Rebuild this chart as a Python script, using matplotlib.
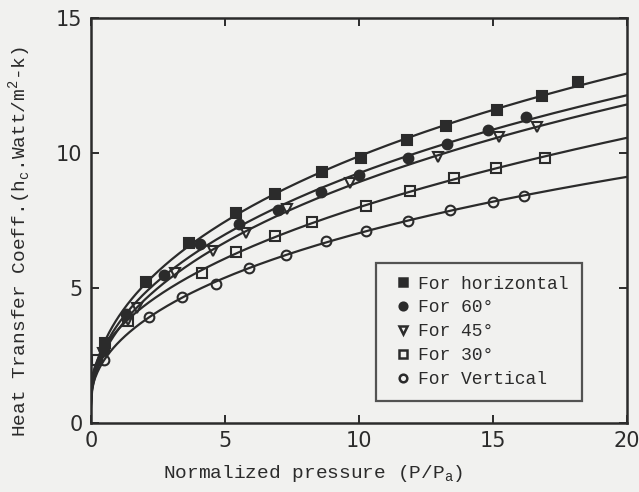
import numpy as np
import matplotlib
matplotlib.use("Agg")
import matplotlib.pyplot as plt

# ---- data ----
x_horiz = [0.52, 2.05, 3.66, 5.41, 6.87, 8.62, 10.07, 11.79, 13.25, 15.15, 16.83, 18.17]
y_horiz = [2.96, 5.22, 6.67, 7.78, 8.48, 9.30, 9.81, 10.48, 11.00, 11.59, 12.11, 12.63]

x_60 = [0.49, 1.30, 2.72, 4.07, 5.52, 6.98, 8.58, 10.00, 11.83, 13.28, 14.81, 16.23]
y_60 = [2.70, 4.05, 5.48, 6.63, 7.37, 7.89, 8.56, 9.19, 9.81, 10.33, 10.85, 11.33]

x_45 = [0.45, 1.38, 1.72, 3.13, 4.55, 5.78, 7.31, 9.66, 12.95, 15.22, 16.64]
y_45 = [2.60, 3.81, 4.26, 5.56, 6.37, 7.04, 7.93, 8.89, 9.85, 10.59, 10.96]

x_30 = [0.22, 1.38, 4.14, 5.41, 6.87, 8.25, 10.26, 11.90, 13.54, 15.11, 16.94]
y_30 = [2.33, 3.78, 5.56, 6.33, 6.93, 7.44, 8.04, 8.59, 9.07, 9.44, 9.81]

x_vert = [0.49, 2.16, 3.40, 4.66, 5.90, 7.28, 8.77, 10.26, 11.83, 13.40, 15.00, 16.16]
y_vert = [2.33, 3.93, 4.67, 5.15, 5.74, 6.22, 6.74, 7.11, 7.48, 7.89, 8.19, 8.41]

labels = ["For horizontal", "For 60\u00b0", "For 45\u00b0", "For 30\u00b0", "For Vertical"]
x_ticks = [0, 5, 10, 15, 20]
y_ticks = [0, 5, 10, 15]

ink = "#2b2b2b"
bg = "#f1f1ef"

fig = plt.figure(figsize=(6.39, 4.92), dpi=100, facecolor=bg)
ax = fig.add_axes([91/639, 1-423/492, (627-91)/639, (423-18)/492])
ax.set_facecolor(bg)

series = [
    (x_horiz, y_horiz, dict(marker="s", mfc=ink, mec=ink)),
    (x_60, y_60, dict(marker="o", mfc=ink, mec=ink)),
    (x_45, y_45, dict(marker="v", mfc="none", mec=ink)),
    (x_30, y_30, dict(marker="s", mfc="none", mec=ink)),
    (x_vert, y_vert, dict(marker="o", mfc="none", mec=ink)),
]

xx = np.linspace(0.0, 20, 500)
handles = []
for (xs, ys, st), lab in zip(series, labels):
    xs = np.asarray(xs); ys = np.asarray(ys)
    # smooth trend line: quadratic in sqrt(x), fitted to the points
    coef = np.polyfit(np.sqrt(xs), ys, 2)
    ax.plot(xx, np.polyval(coef, np.sqrt(xx)), color=ink, lw=1.6, zorder=2)
    ax.plot(xs, ys, linestyle="none", markersize=7, mew=1.5, zorder=3, **st)
    handles.append(ax.plot([], [], linestyle="none", markersize=5.5, mew=1.8, **st)[0])

ax.set_xlim(0, 20)
ax.set_ylim(0, 15)
ax.set_xticks(x_ticks)
ax.set_yticks(y_ticks)
ax.tick_params(direction="in", length=6, width=1.4, top=True, right=True,
               labelsize=15, colors=ink, pad=6)
for sp in ax.spines.values():
    sp.set_linewidth(1.8)
    sp.set_color(ink)

mono = "Liberation Mono"
fig.text(313/639, 1-474/492, "Normalized pressure (P/P$_\\mathregular{a}$)", fontsize=14,
         family=mono, color=ink, ha="center", va="center")
fig.text(20/639, 1-241/492,
         "Heat Transfer Coeff.(h$_\\mathregular{c}$.Watt/m$^\\mathregular{2}$-k)",
         fontsize=14, family=mono, color=ink, ha="center", va="center", rotation=90)

leg = fig.legend(handles, labels, loc="upper left",
                 bbox_to_anchor=(376/639, 1-263/492), bbox_transform=fig.transFigure,
                 borderaxespad=0, frameon=True, fancybox=False,
                 prop={"family": mono, "size": 13}, handlelength=1.6,
                 handletextpad=0.05, labelspacing=0.38, borderpad=0.7)
fr = leg.get_frame()
fr.set_edgecolor(ink)
fr.set_linewidth(1.6)
fr.set_facecolor(bg)
for t in leg.get_texts():
    t.set_color(ink)

fig.savefig("out.png", dpi=100, facecolor=bg)
